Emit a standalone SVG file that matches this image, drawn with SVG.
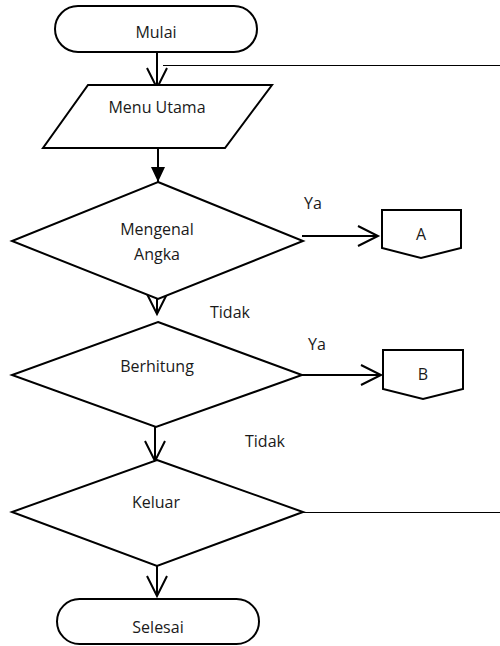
<svg xmlns="http://www.w3.org/2000/svg" width="500" height="646" viewBox="0 0 500 646">
<style>
.s{fill:#fff;stroke:#000;stroke-width:2;stroke-linejoin:miter}
.t{font-family:"Open Sans","Liberation Sans",sans-serif;font-size:16px;fill:#1a1a1a;text-anchor:middle}
.l{font-family:"Open Sans","Liberation Sans",sans-serif;font-size:16px;fill:#1a1a1a}
.c{fill:none;stroke:#000;stroke-width:2}
.c1{fill:none;stroke:#000;stroke-width:1}
</style>
<defs>
<marker id="open" markerUnits="userSpaceOnUse" markerWidth="24" markerHeight="24" refX="20" refY="10" orient="auto" overflow="visible">
<path d="M0,0 L20,10 L0,20" fill="none" stroke="#000" stroke-width="2"/>
</marker>
<marker id="fill" markerUnits="userSpaceOnUse" markerWidth="16" markerHeight="16" refX="15" refY="7" orient="auto" overflow="visible">
<path d="M0,0 L15,7 L0,14 Z" fill="#000"/>
</marker>
</defs>
<rect width="500" height="646" fill="#fff"/>
<g id="connectors">
<line class="c" x1="157" y1="52" x2="157" y2="88" marker-end="url(#open)"/>
<polyline class="c1" points="163,65.5 510.5,65.5 510.5,512.5 303,512.5"/>
<line class="c" x1="158" y1="148" x2="158" y2="182" marker-end="url(#fill)"/>
<line class="c" x1="302" y1="236" x2="378" y2="236" marker-end="url(#open)"/>
<line class="c" x1="157" y1="290" x2="157" y2="314" marker-end="url(#open)"/>
<line class="c" x1="302" y1="375" x2="381" y2="375" marker-end="url(#open)"/>
<line class="c" x1="155" y1="427" x2="155" y2="461" marker-end="url(#open)"/>
<line class="c" x1="157" y1="566" x2="157" y2="596" marker-end="url(#open)"/>
<text class="l" x="304" y="209">Ya</text>
<text class="l" x="210" y="318">Tidak</text>
<text class="l" x="308" y="350">Ya</text>
<text class="l" x="245" y="447">Tidak</text>
</g>
<g id="mulai">
<rect class="s" x="55" y="6" width="202" height="46" rx="23" ry="23"/>
<text class="t" x="156" y="38">Mulai</text>
</g>
<g id="menu-utama">
<polygon class="s" points="88,85 272,85 225,148 43,148"/>
<text class="t" x="157" y="113">Menu Utama</text>
</g>
<g id="mengenal-angka">
<polygon class="s" points="158,182 303,241 158,299 12,241"/>
<text class="t" x="157" y="235">Mengenal</text>
<text class="t" x="157" y="260">Angka</text>
</g>
<g id="connector-a">
<polygon class="s" points="382,210 461,210 461,248 421,258 382,248"/>
<text class="t" x="421" y="240">A</text>
</g>
<g id="berhitung">
<polygon class="s" points="158,322 302,375 156,427 12,375"/>
<text class="t" x="157" y="372">Berhitung</text>
</g>
<g id="connector-b">
<polygon class="s" points="383,350 463,350 463,389 423,399 383,389"/>
<text class="t" x="423" y="380">B</text>
</g>
<g id="keluar">
<polygon class="s" points="157,460 303,512 157,566 12,512"/>
<text class="t" x="156" y="508">Keluar</text>
</g>
<g id="selesai">
<rect class="s" x="57" y="599" width="202" height="45" rx="22.5" ry="22.5"/>
<text class="t" x="158" y="633">Selesai</text>
</g>
</svg>
